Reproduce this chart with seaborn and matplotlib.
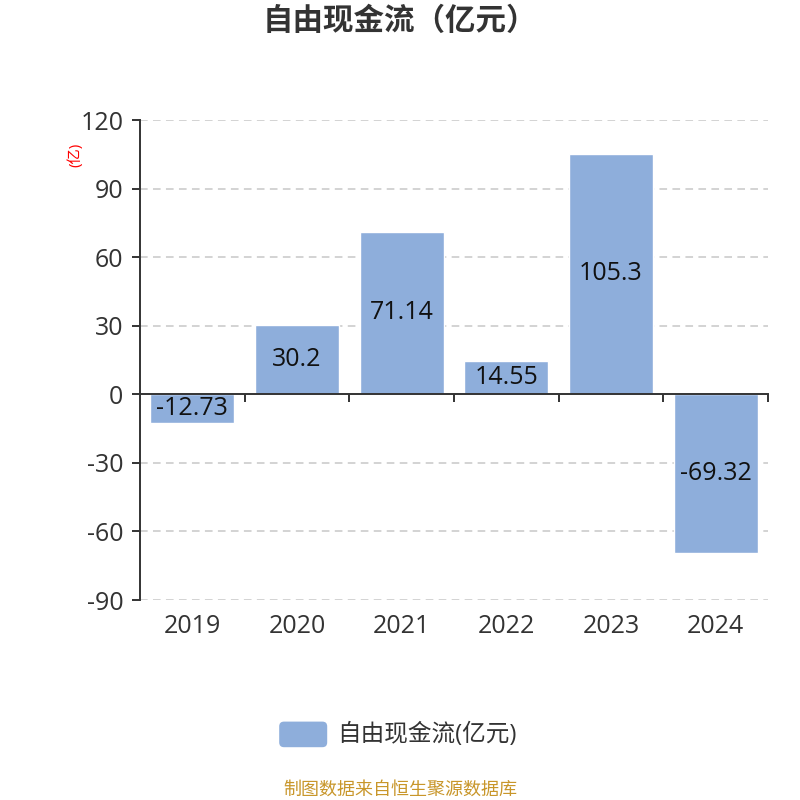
import matplotlib
matplotlib.use("Agg")
import matplotlib.pyplot as plt
import matplotlib.transforms as mtransforms
from matplotlib.patches import FancyBboxPatch
import seaborn as sns
import pandas as pd

# 数据
years = ["2019", "2020", "2021", "2022", "2023", "2024"]
fcf = [-12.73, 30.2, 71.14, 14.55, 105.3, -69.32]
fcf_labels = ["-12.73", "30.2", "71.14", "14.55", "105.3", "-69.32"]
y_ticks = [-90, -60, -30, 0, 30, 60, 90, 120]

title = "自由现金流（亿元）"
series_name = "自由现金流(亿元)"
unit_label = "(亿)"
source_note = "制图数据来自恒生聚源数据库"

bar_color = "#8eaedb"
text_color = "#333333"

sns.set_theme(style="white")
plt.rcParams["font.family"] = ["Open Sans", "Noto Sans CJK SC", "DejaVu Sans"]

df = pd.DataFrame({"year": years, "value": fcf})

fig = plt.figure(figsize=(8, 8), dpi=100)
ax = fig.add_axes([0.175, 0.25, 0.785, 0.60])

sns.barplot(data=df, x="year", y="value", color=bar_color, saturation=1,
            width=0.8, ax=ax)

ax.set_xlim(-0.5, 5.5)
ax.set_ylim(-90, 120)

# 网格线
ax.set_yticks(y_ticks)
ax.set_yticklabels([str(t) for t in y_ticks], fontsize=18, color=text_color)
for t in y_ticks:
    if t != 0:
        ax.axhline(t, color="#c8c8c8", lw=1.1, ls=(0, (5, 3.5)), zorder=0)

# 坐标轴
for s in ["top", "right"]:
    ax.spines[s].set_visible(False)
ax.spines["left"].set_color(text_color)
ax.spines["left"].set_linewidth(1.4)
ax.spines["bottom"].set_position(("data", 0))
ax.spines["bottom"].set_color(text_color)
ax.spines["bottom"].set_linewidth(1.4)
ax.tick_params(axis="y", left=True, direction="out", length=6, width=1.4,
               color=text_color, pad=6)

ax.set_xticks([0.5, 1.5, 2.5, 3.5, 4.5, 5.5])
ax.set_xticklabels([])
ax.tick_params(axis="x", bottom=True, direction="out", length=6, width=1.4,
               color=text_color)
ax.set_xlabel("")
ax.set_ylabel("")

# 年份标签在底部
trans = mtransforms.blended_transform_factory(ax.transData, ax.transAxes)
for i, yr in enumerate(years):
    ax.text(i, -0.055, yr, transform=trans, ha="center", va="center",
            fontsize=18, color=text_color)

# 柱内数值
for i, (v, lab) in enumerate(zip(fcf, fcf_labels)):
    ax.text(i, v / 2, lab, ha="center", va="center", fontsize=18, color="#111111")

# 单位
fig.text(0.094, 0.806, unit_label, rotation=90, ha="center", va="center",
         fontsize=11, color="red")

# 标题
fig.text(0.5, 0.972, title, ha="center", va="center", fontsize=22,
         fontweight="bold", color=text_color)

# 图例
fig.patches.append(FancyBboxPatch((0.349, 0.066), 0.060, 0.032,
                                  boxstyle="round,pad=0,rounding_size=0.006",
                                  transform=fig.transFigure, facecolor=bar_color,
                                  edgecolor="none"))
fig.text(0.422, 0.082, series_name, ha="left", va="center", fontsize=17,
         color=text_color)

# 数据来源
fig.text(0.5, 0.013, source_note, ha="center", va="center", fontsize=13,
         color="#c8962a")

fig.savefig("out.png", dpi=100)
